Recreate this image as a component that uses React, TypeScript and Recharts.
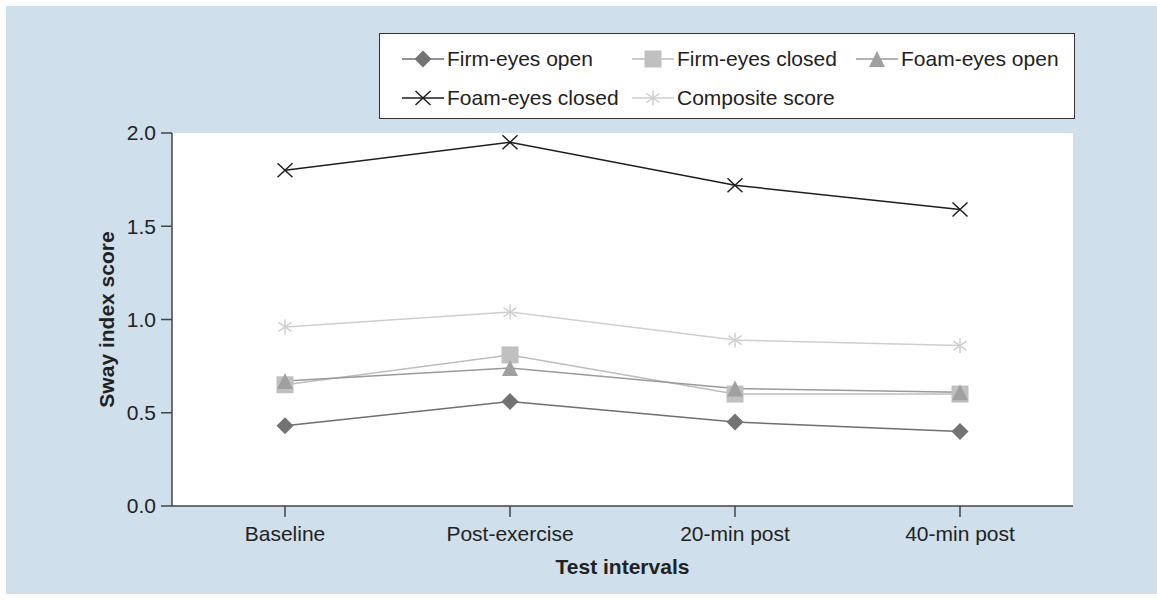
import React from 'react';
import { LineChart, Line, XAxis, YAxis, CartesianGrid, Legend, Label } from 'recharts';

const categories = ['Baseline', 'Post-exercise', '20-min post', '40-min post'];
const firmEyesOpen = [0.43, 0.56, 0.45, 0.4];
const firmEyesClosed = [0.65, 0.81, 0.6, 0.6];
const foamEyesOpen = [0.67, 0.74, 0.63, 0.61];
const foamEyesClosed = [1.8, 1.95, 1.72, 1.59];
const compositeScore = [0.96, 1.04, 0.89, 0.86];
const yTicks = [0, 0.5, 1, 1.5, 2];

const FONT = '"Liberation Sans", Arial, sans-serif';
const FS = 21;

type Shape = 'diamond' | 'square' | 'triangle' | 'cross' | 'asterisk';

interface SeriesConfig {
  key: string;
  label: string;
  stroke: string;
  fill: string;
  shape: Shape;
}

const series: SeriesConfig[] = [
  { key: 'firmOpen', label: 'Firm-eyes open', stroke: '#6e6e6e', fill: '#737373', shape: 'diamond' },
  { key: 'firmClosed', label: 'Firm-eyes closed', stroke: '#bdbdbd', fill: '#c0c0c0', shape: 'square' },
  { key: 'foamOpen', label: 'Foam-eyes open', stroke: '#9a9a9a', fill: '#a0a0a0', shape: 'triangle' },
  { key: 'foamClosed', label: 'Foam-eyes closed', stroke: '#1e1e1e', fill: '#1e1e1e', shape: 'cross' },
  { key: 'composite', label: 'Composite score', stroke: '#cfcfcf', fill: '#cfcfcf', shape: 'asterisk' },
];

const data = categories.map((name, i) => ({
  name,
  firmOpen: firmEyesOpen[i],
  firmClosed: firmEyesClosed[i],
  foamOpen: foamEyesOpen[i],
  foamClosed: foamEyesClosed[i],
  composite: compositeScore[i],
}));

function Marker({ shape, cx, cy, color }: { shape: Shape; cx: number; cy: number; color: string }) {
  switch (shape) {
    case 'diamond':
      return (
        <polygon
          points={`${cx},${cy - 8.5} ${cx + 8.5},${cy} ${cx},${cy + 8.5} ${cx - 8.5},${cy}`}
          fill={color}
        />
      );
    case 'square':
      return <rect x={cx - 8.5} y={cy - 8.5} width={17} height={17} fill={color} />;
    case 'triangle':
      return <polygon points={`${cx},${cy - 8} ${cx + 8},${cy + 8} ${cx - 8},${cy + 8}`} fill={color} />;
    case 'cross':
      return (
        <g stroke={color} strokeWidth={1.5}>
          <line x1={cx - 7.5} y1={cy - 7} x2={cx + 7.5} y2={cy + 7} />
          <line x1={cx - 7.5} y1={cy + 7} x2={cx + 7.5} y2={cy - 7} />
        </g>
      );
    default:
      return (
        <g stroke={color} strokeWidth={1.5}>
          <line x1={cx} y1={cy - 7.5} x2={cx} y2={cy + 7.5} />
          <line x1={cx - 6.5} y1={cy - 4.5} x2={cx + 6.5} y2={cy + 4.5} />
          <line x1={cx - 6.5} y1={cy + 4.5} x2={cx + 6.5} y2={cy - 4.5} />
        </g>
      );
  }
}

// legend item positions inside the box (two rows, uneven columns like the original)
const legendSlots = [
  { left: 22, top: 25 },
  { left: 252, top: 25 },
  { left: 476, top: 25 },
  { left: 22, top: 64 },
  { left: 252, top: 64 },
];

function LegendBox() {
  return (
    <div
      style={{
        position: 'relative',
        width: 696,
        height: 86,
        boxSizing: 'border-box',
        border: '1.5px solid #333',
        background: '#fff',
        fontFamily: FONT,
        fontSize: FS,
        color: '#222',
      }}
    >
      {series.map((s, i) => (
        <div
          key={s.key}
          style={{
            position: 'absolute',
            left: legendSlots[i].left,
            top: legendSlots[i].top - 13,
            height: 26,
            display: 'flex',
            alignItems: 'center',
            whiteSpace: 'nowrap',
          }}
        >
          <svg width={42} height={22} style={{ marginRight: 3 }}>
            <line x1={0} y1={11} x2={42} y2={11} stroke={s.stroke} strokeWidth={1.5} />
            <Marker shape={s.shape} cx={21} cy={11} color={s.fill} />
          </svg>
          <span>{s.label}</span>
        </div>
      ))}
    </div>
  );
}

export default function App() {
  return (
    <div
      style={{
        position: 'absolute',
        left: 6,
        top: 6,
        width: 1151,
        height: 588,
        background: '#cfdfeb',
      }}
    >
      <LineChart width={1151} height={588} data={data} margin={{ top: 127, right: 84, bottom: 0, left: 0 }}>
        <CartesianGrid fill="#fff" horizontal={false} vertical={false} />
        <XAxis
          dataKey="name"
          height={88}
          padding={{ left: 113, right: 113 }}
          tickSize={11}
          tickMargin={9}
          axisLine={{ stroke: '#444', strokeWidth: 1.5 }}
          tickLine={{ stroke: '#444', strokeWidth: 1.5 }}
          tick={{ fill: '#222', fontSize: FS, fontFamily: FONT }}
        >
          <Label
            content={({ viewBox }: any) => (
              <text
                x={viewBox.x + viewBox.width / 2}
                y={viewBox.y + 60}
                textAnchor="middle"
                dominantBaseline="central"
                fontFamily={FONT}
                fontSize={FS}
                fontWeight="bold"
                fill="#222"
              >
                Test intervals
              </text>
            )}
          />
        </XAxis>
        <YAxis
          width={166}
          domain={[0, 2]}
          ticks={yTicks}
          tickFormatter={(v: number) => v.toFixed(1)}
          tickSize={11}
          tickMargin={5}
          axisLine={{ stroke: '#444', strokeWidth: 1.5 }}
          tickLine={{ stroke: '#444', strokeWidth: 1.5 }}
          tick={{ fill: '#222', fontSize: FS, fontFamily: FONT }}
        >
          <Label
            content={({ viewBox }: any) => {
              const x = viewBox.x + 100;
              const y = viewBox.y + viewBox.height / 2;
              return (
                <text
                  x={x}
                  y={y}
                  transform={`rotate(-90 ${x} ${y})`}
                  textAnchor="middle"
                  dominantBaseline="central"
                  fontFamily={FONT}
                  fontSize={FS}
                  fontWeight="bold"
                  fill="#222"
                >
                  Sway index score
                </text>
              );
            }}
          />
        </YAxis>
        <Legend
          layout="horizontal"
          verticalAlign="middle"
          align="center"
          wrapperStyle={{ left: 373, top: 27, width: 696, height: 86 }}
          content={() => <LegendBox />}
        />
        {series.map((s) => (
          <Line
            key={s.key}
            dataKey={s.key}
            name={s.label}
            type="linear"
            stroke={s.stroke}
            strokeWidth={1.5}
            isAnimationActive={false}
            activeDot={false}
            dot={(p: any) => (
              <Marker key={`${s.key}-${p.index}`} shape={s.shape} cx={p.cx} cy={p.cy} color={s.fill} />
            )}
          />
        ))}
      </LineChart>
    </div>
  );
}
